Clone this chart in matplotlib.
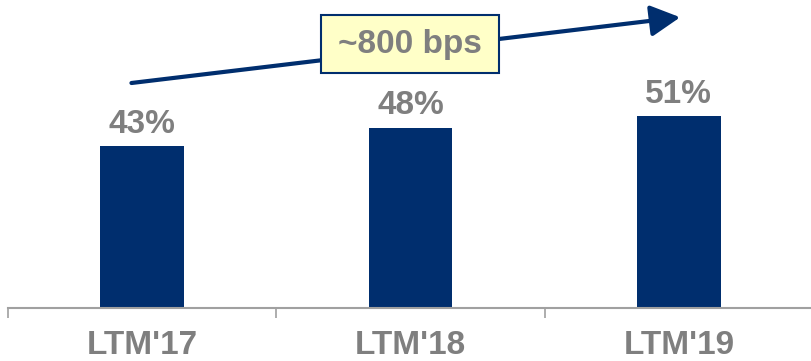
import matplotlib
matplotlib.use('Agg')
import matplotlib.pyplot as plt
from matplotlib.patches import Rectangle

# data
periods = ["LTM'17", "LTM'18", "LTM'19"]
margins = [43, 48, 51]
value_labels = ['43%', '48%', '51%']
callout = '~800 bps'

navy = '#002E6E'
grey = '#7F7F7F'

plt.rcParams['font.family'] = ['Liberation Sans', 'DejaVu Sans']

fig = plt.figure(figsize=(8.11, 3.61), dpi=100)
ax = fig.add_axes([8 / 811, 53 / 361, 805 / 811, 308 / 361])

x = list(range(len(periods)))
bars = ax.bar(x, margins, width=0.313, color=navy, zorder=2)

# value labels above bars
for b, lab in zip(bars, value_labels):
    ax.annotate(lab, (b.get_x() + b.get_width() / 2, b.get_height()),
                xytext=(0, 10), textcoords='offset points',
                ha='center', va='baseline', fontsize=24,
                fontweight='bold', color=grey)

ax.set_xlim(-0.5, 2.5)
ax.set_ylim(0, 82)

# axis styling
for s in ['top', 'right', 'left']:
    ax.spines[s].set_visible(False)
ax.spines['bottom'].set_color('#A0A0A0')
ax.spines['bottom'].set_linewidth(1.5)
ax.set_yticks([])
ax.set_xticks(x)
ax.set_xticklabels(periods, fontsize=24, fontweight='bold', color=grey)
ax.tick_params(axis='x', which='major', length=0, pad=16)
ax.set_xticks([-0.5, 0.5, 1.5, 2.5], minor=True)
ax.tick_params(axis='x', which='minor', length=7.5, width=1.2,
               color='#A0A0A0', direction='out')

# growth arrow
ax.annotate('', xy=(2.005, 77.4), xytext=(-0.04, 59.9),
            arrowprops=dict(arrowstyle='-|>,head_length=18,head_width=9.5',
                            mutation_scale=1, lw=3, color=navy,
                            shrinkA=0, shrinkB=0),
            annotation_clip=False, zorder=3)

# callout box
box = Rectangle((0.667, 62.5), 0.663, 15.5, facecolor='#FFFFC8',
                edgecolor=navy, linewidth=1.5, zorder=4, clip_on=False)
ax.add_patch(box)
ax.text(0.9985, 70.2, callout, ha='center', va='center', fontsize=24,
        fontweight='bold', color=grey, zorder=5)

fig.savefig('out.png', dpi=100)
